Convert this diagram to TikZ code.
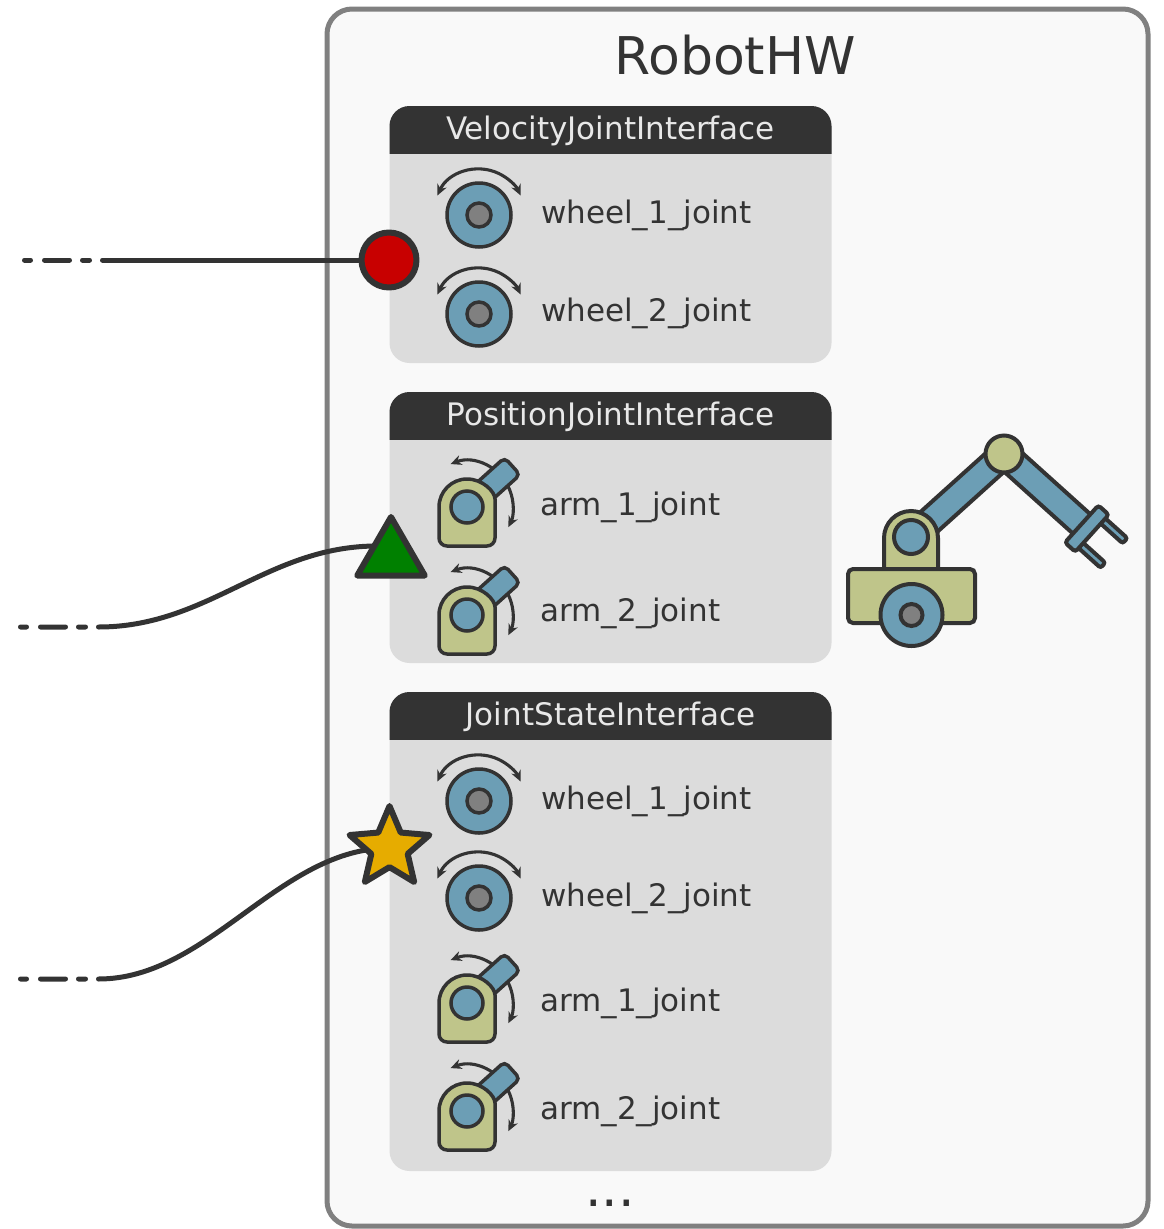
\documentclass[tikz,border=0pt]{standalone}
\usepackage{fontspec}
\setmainfont{DejaVu Sans}
\usetikzlibrary{shapes.geometric,arrows.meta,calc}

\definecolor{ink}{RGB}{51,51,51}
\definecolor{framegray}{RGB}{128,128,128}
\definecolor{framefill}{RGB}{249,249,249}
\definecolor{panel}{RGB}{220,220,220}
\definecolor{headtxt}{RGB}{232,232,232}
\definecolor{jblue}{RGB}{108,158,181}
\definecolor{olive}{RGB}{191,197,138}
\definecolor{hubgray}{RGB}{128,128,128}
\definecolor{portred}{RGB}{200,0,0}
\definecolor{portgreen}{RGB}{0,128,0}
\definecolor{portgold}{RGB}{230,172,0}

\pgfdeclarelayer{boxes}
\pgfdeclarelayer{wires}
\pgfsetlayers{boxes,wires,main}

\tikzset{
  part/.style={draw=ink, line width=3.5pt},
  robotpart/.style={draw=ink, line width=4pt},
  iconarc/.style={draw=ink, line width=3.1pt,
    arrows={Stealth[length=11pt,width=10pt]-Stealth[length=11pt,width=10pt]}},
  jointlabel/.style={text=ink, font=\fontsize{31pt}{36pt}\selectfont,
    inner sep=0pt, anchor=base west},
  headtext/.style={text=headtxt, font=\fontsize{31pt}{36pt}\selectfont,
    inner sep=0pt, anchor=base},
  bigtext/.style={text=ink, font=\fontsize{52pt}{60pt}\selectfont,
    inner sep=0pt, anchor=base},
  wire/.style={draw=ink, line width=5pt, line cap=round,
    dash pattern=on 6pt off 14pt on 25pt off 13pt on 7pt off 13pt on 3000pt off 1pt},
  port/.style={draw=ink, line width=6pt, inner sep=0pt, line join=round},
  pics/wheelicon/.style={code={
    \draw[iconarc] (-155:46) arc[start angle=-155, end angle=-25, radius=46];
    \filldraw[part, fill=jblue] (0,0) circle[radius=32];
    \filldraw[part, fill=hubgray] (0,0) circle[radius=12];
  }},
  pics/armicon/.style={code={
    \draw[iconarc] (-111:46) arc[start angle=-111, end angle=26, radius=46];
    \begin{scope}[rotate=42]
      \filldraw[part, fill=jblue, rounded corners=5pt] (10,-11.5) rectangle (61,11.5);
    \end{scope}
    \filldraw[part, fill=olive] (28,0) arc[start angle=0, end angle=-180, radius=28]
      [rounded corners=8pt] -- (-28,39) -- (28,39) -- cycle;
    \filldraw[part, fill=jblue] (0,0) circle[radius=16];
  }},
}

% interface panel: #1 top, #2 bottom, #3 header node name, #4 title
\newcommand\ifacebox[4]{%
  \fill[panel, rounded corners=20pt] (389.5,#1) rectangle (831.5,#2);
  \begin{scope}
    \clip (389.5,#1) rectangle (831.5,#1+47);
    \fill[ink, rounded corners=20pt] (389.5,#1) rectangle (831.5,#1+90);
  \end{scope}
  \node[headtext] (#3) at (610.5,#1+33.3) {#4};
}

\begin{document}
\begin{tikzpicture}[x=1pt,y=-1pt]
\useasboundingbox (0,0) rectangle (1163,1229);

\begin{pgfonlayer}{boxes}
  % RobotHW frame
  \draw[line width=5pt, draw=framegray, fill=framefill, rounded corners=25pt]
    (327,9) rectangle (1148,1226);
  \ifacebox{106}{363}{hvel}{VelocityJointInterface}
  \ifacebox{392}{663}{hpos}{PositionJointInterface}
  \ifacebox{692}{1171}{hstate}{JointStateInterface}
\end{pgfonlayer}

\node[bigtext] (title) at (735,74) {RobotHW};
\node[bigtext] (more) at (610,1206) {...};

% joint entries
\pic at (479,215) {wheelicon};
\node[jointlabel] (v1) at (541,223.3) {wheel\_1\_joint};
\pic at (479,314) {wheelicon};
\node[jointlabel] (v2) at (541,321.7) {wheel\_2\_joint};

\pic at (467,507) {armicon};
\node[jointlabel] (p1) at (540,515) {arm\_1\_joint};
\pic at (467,615) {armicon};
\node[jointlabel] (p2) at (540,621.7) {arm\_2\_joint};

\pic at (479,801) {wheelicon};
\node[jointlabel] (s1) at (541,809.5) {wheel\_1\_joint};
\pic at (479,898) {wheelicon};
\node[jointlabel] (s2) at (541,906.5) {wheel\_2\_joint};
\pic at (467,1003) {armicon};
\node[jointlabel] (s3) at (540,1011) {arm\_1\_joint};
\pic at (467,1111) {armicon};
\node[jointlabel] (s4) at (540,1119) {arm\_2\_joint};

% ports
\node[port, circle, fill=portred, minimum size=55pt] (pred) at (389,260) {};
\node[port, regular polygon, regular polygon sides=3, fill=portgreen,
  minimum size=78pt] (pgreen) at (391,556) {};
\node[port, star, star points=5, star point ratio=2.2, fill=portgold,
  minimum size=84pt] (pgold) at (389.5,848) {};

% connections
\coordinate (e1) at (24.5,260);
\coordinate (e2) at (20.5,627);
\coordinate (k2) at (98.5,627);
\coordinate (e3) at (20.5,979);
\coordinate (k3) at (98.5,979);
\begin{pgfonlayer}{wires}
  \draw[wire] (e1) -- (pred.center);
  \draw[wire] (e2) -- (k2) .. controls +(110,0) and +(-110,0) ..
    ($(pgreen.center)+(-14,-10)$);
  \draw[wire] (e3) -- (k3) .. controls +(110,0) and +(-110,0) .. (pgold.center);
\end{pgfonlayer}

% robot arm
\begin{scope}[shift={(911,538)}, rotate=42]
  \filldraw[robotpart, fill=jblue] (0,-13) rectangle (125,13);
\end{scope}
\begin{scope}[shift={(1004,454)}, rotate=-42]
  \filldraw[robotpart, fill=jblue] (0,-13) rectangle (106,13);
  \filldraw[robotpart, fill=jblue, rounded corners=2.5pt] (114,13) rectangle (148,20);
  \filldraw[robotpart, fill=jblue, rounded corners=2.5pt] (114,-20) rectangle (148,-13);
  \filldraw[robotpart, fill=jblue, rounded corners=3pt] (104.5,-25) rectangle (118.5,25);
\end{scope}
\filldraw[robotpart, fill=olive] (1004,454) circle[radius=18.5];
\filldraw[robotpart, fill=olive] (938,569) -- (938,538)
  arc[start angle=0, end angle=-180, radius=27] -- (884,569);
\filldraw[robotpart, fill=jblue] (911,537) circle[radius=17];
\filldraw[robotpart, fill=olive, rounded corners=5pt] (848,569) rectangle (975,623);
\filldraw[robotpart, fill=jblue] (911.5,615) circle[radius=31];
\filldraw[robotpart, fill=hubgray] (911.5,615) circle[radius=11];

\end{tikzpicture}
\end{document}
